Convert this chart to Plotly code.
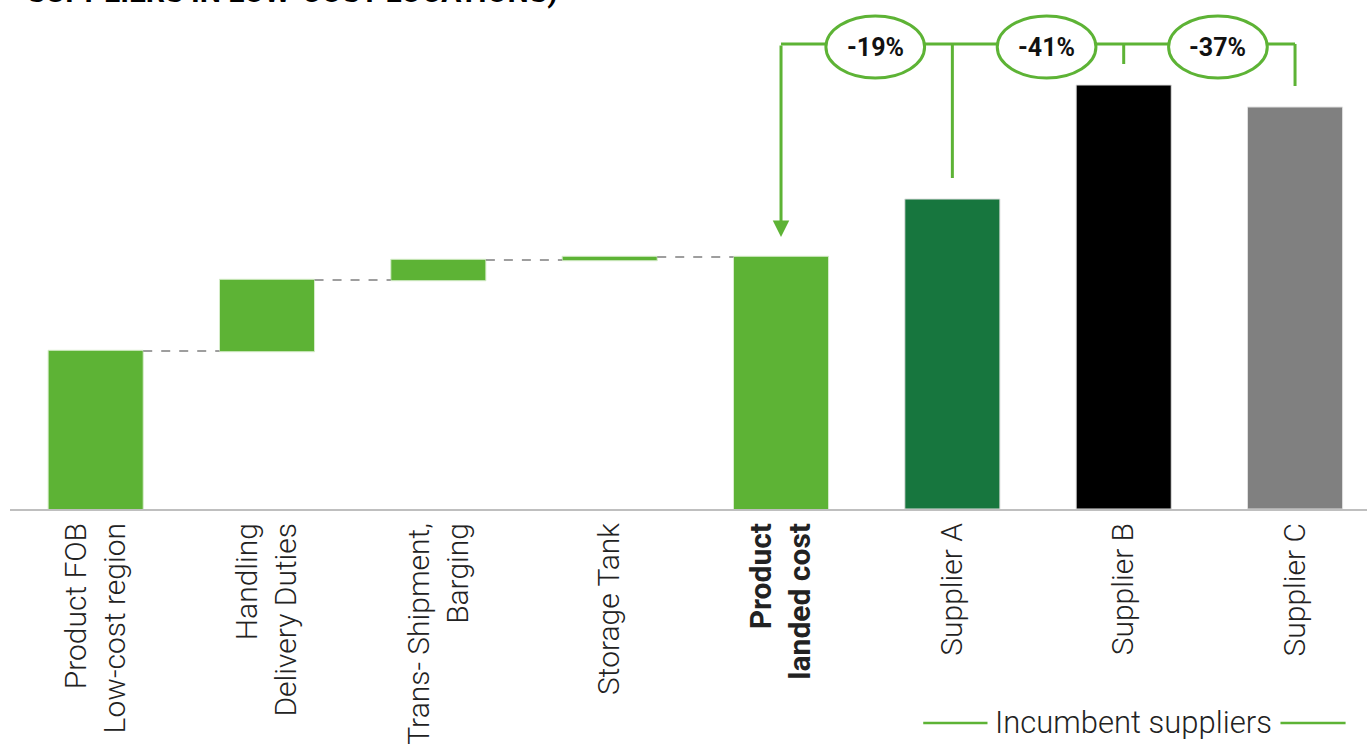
import plotly.graph_objects as go

# ---- data ----
categories = ["Product FOB<br>Low-cost region", "Handling<br>Delivery Duties",
              "Trans- Shipment,<br>Barging", "Storage Tank",
              "<b>Product<br>landed cost</b>", "Supplier A", "Supplier B", "Supplier C"]
cost_steps = [158, 71, 20, 3]          # waterfall components
supplier_names = categories[5:]
supplier_values = [310, 424, 402]
supplier_colors = ["#17763E", "#000000", "#808080"]

GREEN = "#5DB335"
LINE_Y = 465      # level of the bracket line (data units)
GAP = 21          # gap between bracket leg and bar top

landed = sum(cost_steps)
wf_x = categories[:5]
wf_measure = ["relative"] * len(cost_steps) + ["total"]
wf_y = cost_steps + [0]

fig = go.Figure()
fig.add_trace(go.Waterfall(
    x=wf_x, y=wf_y, measure=wf_measure,
    increasing=dict(marker=dict(color=GREEN, line=dict(color="#D8EDCC", width=1))),
    totals=dict(marker=dict(color=GREEN, line=dict(color="#D8EDCC", width=1))),
    connector=dict(mode="between", line=dict(color="#7F7F7F", width=1.5, dash="dash")),
    textinfo="none", hoverinfo="skip", showlegend=False,
))
fig.add_trace(go.Bar(
    x=supplier_names, y=supplier_values,
    marker=dict(color=supplier_colors, line=dict(color="#E0E0E0", width=1)),
    hoverinfo="skip", showlegend=False,
))

shapes = []
annotations = []
landed_idx = 4
sup_idx = [5, 6, 7]
# horizontal bracket line
shapes.append(dict(type="line", xref="x", yref="y", x0=landed_idx, x1=sup_idx[-1],
                   y0=LINE_Y, y1=LINE_Y, line=dict(color=GREEN, width=3), layer="above"))
# legs to suppliers
for i, v in zip(sup_idx, supplier_values):
    shapes.append(dict(type="line", xref="x", yref="y", x0=i, x1=i,
                       y0=LINE_Y, y1=v + GAP, line=dict(color=GREEN, width=3), layer="above"))
# arrow down to landed cost
annotations.append(dict(x=landed_idx, y=landed + 20, xref="x", yref="y",
                        ax=landed_idx, ay=LINE_Y, axref="x", ayref="y",
                        showarrow=True, arrowhead=2, arrowsize=1.1, arrowwidth=3,
                        arrowcolor=GREEN, text=""))
# ellipses with percentage labels
prev = landed_idx
for i, v in zip(sup_idx, supplier_values):
    cx = (prev + i) / 2 + 0.05
    pct = round((landed / v - 1) * 100)
    shapes.append(dict(type="circle", xref="x", yref="y", x0=cx - 0.288, x1=cx + 0.288,
                       y0=LINE_Y - 34, y1=LINE_Y + 28, fillcolor="white",
                       line=dict(color=GREEN, width=3), layer="above"))
    annotations.append(dict(x=cx, y=LINE_Y - 3, xref="x", yref="y", showarrow=False,
                            text=f"<b>{pct}%</b>",
                            font=dict(family="Roboto", size=25, color="#111111")))
    prev = i

# footer "Incumbent suppliers"
annotations.append(dict(x=6.06, y=-0.468, xref="x", yref="paper", showarrow=False,
                        text="Incumbent suppliers",
                        font=dict(family="Roboto", size=31, color="#222222", weight=300)))
for x0, x1 in [(4.83, 5.205), (6.915, 7.295)]:
    shapes.append(dict(type="line", xref="x", yref="paper", x0=x0, x1=x1,
                       y0=-0.428, y1=-0.428, line=dict(color=GREEN, width=2.5)))

# title (clipped at the top edge, as in the source)
annotations.append(dict(x=0.011, y=0.995, xref="paper", yref="paper", xanchor="left",
                        yanchor="bottom", showarrow=False,
                        text="<b>SUPPLIERS IN LOW-COST LOCATIONS)</b>",
                        font=dict(family="Roboto", size=30, color="#000000")))

fig.update_layout(
    width=1367, height=751,
    margin=dict(l=10, r=0, t=9, b=242, autoexpand=False),
    paper_bgcolor="white", plot_bgcolor="white",
    bargap=0.445, waterfallgap=0.445,
    shapes=shapes, annotations=annotations,
    xaxis=dict(type="category", categoryorder="array", categoryarray=categories,
               range=[-0.5, 7.42], showline=True, linecolor="#BFBFBF", linewidth=2,
               showgrid=False, zeroline=False, ticks="", tickangle=-90,
               ticklabelstandoff=0, automargin=False,
               tickfont=dict(family="Roboto", size=30, color="#222222", weight=300)),
    yaxis=dict(range=[0, 500], visible=False, showgrid=False, zeroline=False),
)

fig.write_html("out.html")
